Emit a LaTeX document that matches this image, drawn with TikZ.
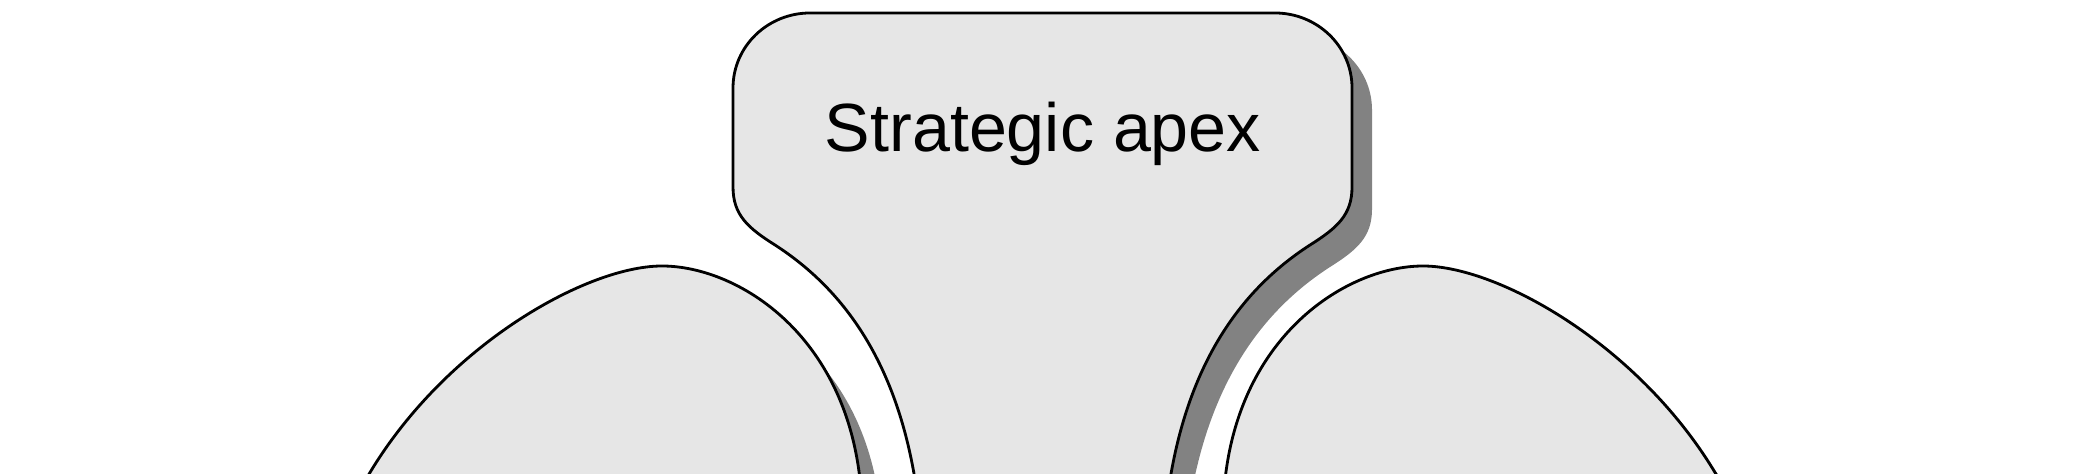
\documentclass[tikz,border=0pt]{standalone}
\usepackage{fontspec}
\setmainfont{Liberation Sans}
\definecolor{fillgray}{HTML}{E6E6E6}
\definecolor{shadowgray}{HTML}{828282}
\newcommand{\apexpath}[1]{\path[#1] (810,13) -- (1275,13)
  .. controls (1317,13) and (1352,46) .. (1352,88) -- (1352,187)
  .. controls (1352,215) and (1337,228) .. (1310,245)
  .. controls (1245,287) and (1185,360) .. (1167,500) -- (918,500)
  .. controls (900,360) and (840,287) .. (775,245)
  .. controls (748,228) and (733,215) .. (733,187) -- (733,88)
  .. controls (733,46) and (768,13) .. (810,13) -- cycle;}
\newcommand{\leftegg}[1]{\path[#1] (350,510)
  .. controls (420,360) and (580,266) .. (662,266)
  .. controls (740,266) and (858,340) .. (862,510) -- cycle;}
\newcommand{\rightegg}[1]{\path[#1] (1735,510)
  .. controls (1665,360) and (1505,266) .. (1423,266)
  .. controls (1345,266) and (1227,340) .. (1223,510) -- cycle;}
\begin{document}
\begin{tikzpicture}[x=0.01cm,y=-0.01cm,
  partshape/.style={fill=fillgray,draw=black,line width=0.8pt,line join=round},
  apexshadow/.style={fill=shadowgray,shift={(20,22)}},
  eggshadow/.style={fill=shadowgray,shift={(20,28)}},
  label/.style={inner sep=0pt,anchor=base,font=\fontsize{19.4pt}{23pt}\selectfont}]
\useasboundingbox (0,0) rectangle (2098,474);
\clip (0,0) rectangle (2098,474);
\leftegg{eggshadow}
\rightegg{eggshadow}
\begin{scope}
  \clip (1043,0) rectangle (2098,474);
  \apexpath{apexshadow}
\end{scope}
\leftegg{partshape}
\rightegg{partshape}
\apexpath{partshape}
\node[label] (apexlabel) at (1043,152) {Strategic apex};
\end{tikzpicture}
\end{document}
